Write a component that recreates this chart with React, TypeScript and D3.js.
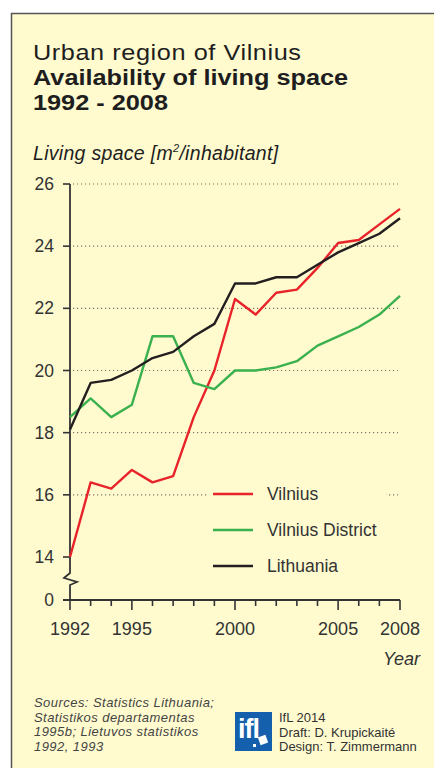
import React, { useEffect, useRef } from "react";
import * as d3 from "d3";

const years = [1992, 1993, 1994, 1995, 1996, 1997, 1998, 1999, 2000, 2001, 2002, 2003, 2004, 2005, 2006, 2007, 2008];
const vilnius = [14.0, 16.4, 16.2, 16.8, 16.4, 16.6, 18.5, 20.0, 22.3, 21.8, 22.5, 22.6, 23.3, 24.1, 24.2, 24.7, 25.2];
const vilniusDistrict = [18.5, 19.1, 18.5, 18.9, 21.1, 21.1, 19.6, 19.4, 20.0, 20.0, 20.1, 20.3, 20.8, 21.1, 21.4, 21.8, 22.4];
const lithuania = [18.1, 19.6, 19.7, 20.0, 20.4, 20.6, 21.1, 21.5, 22.8, 22.8, 23.0, 23.0, 23.4, 23.8, 24.1, 24.4, 24.9];
const yTicks = [14, 16, 18, 20, 22, 24, 26];
const gridTicks = [16, 18, 20, 22, 24, 26];
const xLabels = [1992, 1995, 2000, 2005, 2008];

const series = [
  { name: "Vilnius", values: vilnius, color: "#e8232a" },
  { name: "Vilnius District", values: vilniusDistrict, color: "#3bb04e" },
  { name: "Lithuania", values: lithuania, color: "#231f20" },
];

const titleLines = [
  { text: "Urban region of Vilnius", bold: false },
  { text: "Availability of living space", bold: true },
  { text: "1992 - 2008", bold: true },
];
const sources = [
  "Sources: Statistics Lithuania;",
  "Statistikos departamentas",
  "1995b; Lietuvos statistikos",
  "1992, 1993",
];
const credits = ["IfL 2014", "Draft: D. Krupickaité", "Design: T. Zimmermann"];

const W = 434;
const H = 768;
const bg = "#fffbcf";
const ink = "#333333";
const font = "'Liberation Sans', Arial, sans-serif";

const App: React.FC = () => {
  const svgRef: any = useRef();

  useEffect(() => {
    const svg = d3.select(svgRef.current);
    svg.selectAll("*").remove();

    const left = 70;
    const right = 400;
    const top = 184;
    const low = 557; // position of 14
    const zeroY = 600; // x-axis / 0

    const x = d3.scaleLinear().domain([1992, 2008]).range([left, right]);
    const y = d3.scaleLinear().domain([14, 26]).range([low, top]);

    // frame
    svg.append("rect").attr("width", W).attr("height", H).attr("fill", "#fff");
    svg
      .append("rect")
      .attr("x", 11.5)
      .attr("y", 13.5)
      .attr("width", W + 10)
      .attr("height", H + 10)
      .attr("fill", bg)
      .attr("stroke", "#555")
      .attr("stroke-width", 1.5);

    // titles (slightly widened to mimic the original typeface)
    titleLines.forEach((l, i) => {
      svg
        .append("text")
        .attr("transform", `translate(33,${60 + i * 25}) scale(1.15,1)`)
        .attr("font-family", font)
        .attr("font-size", 22)
        .attr("font-weight", l.bold ? "bold" : "normal")
        .attr("letter-spacing", l.bold ? 0 : 0.5)
        .attr("fill", "#1e1e1e")
        .text(l.text);
    });

    const yl = svg
      .append("text")
      .attr("x", 33)
      .attr("y", 160)
      .attr("font-family", font)
      .attr("font-style", "italic")
      .attr("font-size", 19.5)
      .attr("letter-spacing", 0.3)
      .attr("fill", "#1e1e1e");
    yl.append("tspan").text("Living space [m");
    yl.append("tspan").attr("font-size", 11).attr("dy", -8).text("2");
    yl.append("tspan").attr("dy", 8).text("/inhabitant]");

    // grid
    gridTicks.forEach((v) => {
      svg
        .append("line")
        .attr("x1", left + 3)
        .attr("x2", right - 2)
        .attr("y1", y(v))
        .attr("y2", y(v))
        .attr("stroke", "#7a7566")
        .attr("stroke-width", 1.2)
        .attr("stroke-dasharray", "1.2,2.8");
    });

    // y ticks + labels
    const yTickData = yTicks.map((v) => ({ v, py: y(v) })).concat([{ v: 0, py: zeroY }]);
    yTickData.forEach((d) => {
      svg
        .append("line")
        .attr("x1", left - 7)
        .attr("x2", left)
        .attr("y1", d.py)
        .attr("y2", d.py)
        .attr("stroke", ink)
        .attr("stroke-width", 1.6);
      svg
        .append("text")
        .attr("x", 54)
        .attr("y", d.py + 6)
        .attr("text-anchor", "end")
        .attr("font-family", font)
        .attr("font-size", 17.5)
        .attr("fill", ink)
        .text(d.v);
    });

    // y axis with break
    const brk = 573;
    svg
      .append("path")
      .attr(
        "d",
        `M${left},${top}V${brk}L${left - 6},${brk + 5}L${left + 7},${brk + 9}L${left},${brk + 12}V${zeroY}`
      )
      .attr("fill", "none")
      .attr("stroke", ink)
      .attr("stroke-width", 1.8);

    // x axis
    svg
      .append("line")
      .attr("x1", left - 7)
      .attr("x2", right)
      .attr("y1", zeroY)
      .attr("y2", zeroY)
      .attr("stroke", ink)
      .attr("stroke-width", 1.8);
    years.forEach((yr) => {
      const major = xLabels.includes(yr);
      svg
        .append("line")
        .attr("x1", x(yr))
        .attr("x2", x(yr))
        .attr("y1", zeroY)
        .attr("y2", zeroY + (major ? 10 : 6))
        .attr("stroke", ink)
        .attr("stroke-width", 1.6);
    });
    xLabels.forEach((yr) => {
      svg
        .append("text")
        .attr("x", x(yr))
        .attr("y", 635)
        .attr("text-anchor", "middle")
        .attr("font-family", font)
        .attr("font-size", 18)
        .attr("fill", ink)
        .text(yr);
    });
    svg
      .append("text")
      .attr("x", 420)
      .attr("y", 665)
      .attr("text-anchor", "end")
      .attr("font-family", font)
      .attr("font-style", "italic")
      .attr("font-size", 18)
      .attr("fill", ink)
      .text("Year");

    // legend background covering grid
    svg.append("rect").attr("x", 208).attr("y", 480).attr("width", 178).attr("height", 100).attr("fill", bg);

    // lines
    const line = d3
      .line<number>()
      .x((_, i) => x(years[i]))
      .y((v) => y(v));
    series.forEach((s) => {
      svg
        .append("path")
        .datum(s.values)
        .attr("d", line)
        .attr("fill", "none")
        .attr("stroke", s.color)
        .attr("stroke-width", 2.4)
        .attr("stroke-linejoin", "round");
    });

    // legend
    series.forEach((s, i) => {
      const ly = 494 + i * 36;
      svg
        .append("line")
        .attr("x1", 213)
        .attr("x2", 253)
        .attr("y1", ly)
        .attr("y2", ly)
        .attr("stroke", s.color)
        .attr("stroke-width", 2.4);
      svg
        .append("text")
        .attr("x", 267)
        .attr("y", ly + 6)
        .attr("font-family", font)
        .attr("font-size", 17.5)
        .attr("fill", ink)
        .text(s.name);
    });

    // sources
    sources.forEach((s, i) => {
      svg
        .append("text")
        .attr("x", 34)
        .attr("y", 707 + i * 14.5)
        .attr("font-family", font)
        .attr("font-style", "italic")
        .attr("font-size", 13)
        .attr("letter-spacing", 0.45)
        .attr("fill", "#444")
        .text(s);
    });

    // logo
    const g = svg.append("g").attr("transform", "translate(235,712)");
    g.append("rect").attr("width", 37).attr("height", 39).attr("fill", "#1560ad");
    g.append("text")
      .attr("x", 3)
      .attr("y", 26)
      .attr("font-family", font)
      .attr("font-weight", "bold")
      .attr("font-size", 27)
      .attr("letter-spacing", -1)
      .attr("fill", "#fff")
      .text("ifl");
    g.append("rect")
      .attr("x", 24)
      .attr("y", 24)
      .attr("width", 8)
      .attr("height", 8)
      .attr("fill", "#fff")
      .attr("transform", "rotate(-20,28,28)");
    g.append("rect").attr("x", 18).attr("y", 32).attr("width", 3).attr("height", 3).attr("fill", "#fff");

    credits.forEach((c, i) => {
      svg
        .append("text")
        .attr("x", 279)
        .attr("y", 722 + i * 14.5)
        .attr("font-family", font)
        .attr("font-size", 13)
        .attr("fill", "#333")
        .text(c);
    });
  }, []);

  return (
    <svg
      ref={svgRef}
      width={W}
      height={H}
      style={{ position: "absolute", left: 0, top: 0, display: "block" }}
    />
  );
};

export default App;
